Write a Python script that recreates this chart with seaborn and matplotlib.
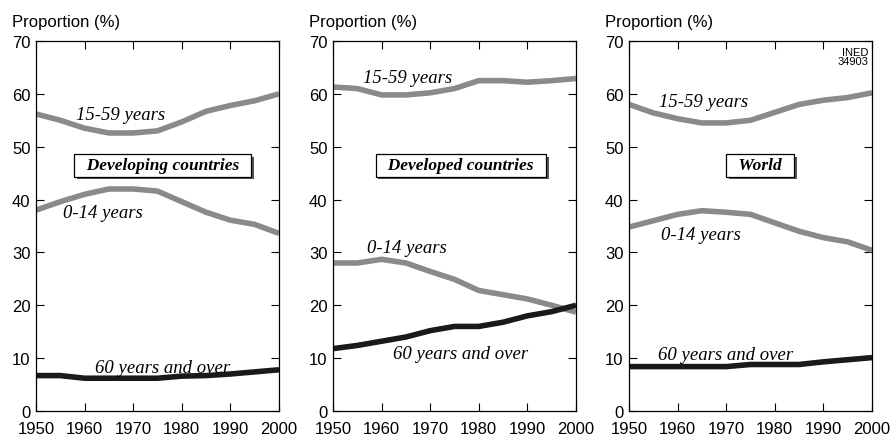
import pandas as pd
from matplotlib import pyplot as plt
from matplotlib import patheffects
import seaborn as sns

sns.set_theme(style="ticks")
plt.rcParams['font.family'] = ['Liberation Sans', 'DejaVu Sans']
plt.rcParams['text.color'] = 'black'

years = [1950, 1955, 1960, 1965, 1970, 1975, 1980, 1985, 1990, 1995, 2000]

# Developing countries
dev_15_59 = [56.2, 55.0, 53.5, 52.6, 52.6, 53.0, 54.7, 56.7, 57.8, 58.7, 60.0]
dev_0_14 = [38.0, 39.6, 41.0, 42.0, 42.0, 41.6, 39.6, 37.6, 36.1, 35.3, 33.6]
dev_60 = [6.7, 6.7, 6.2, 6.2, 6.2, 6.2, 6.6, 6.7, 7.0, 7.4, 7.8]

# Developed countries
ed_15_59 = [61.3, 61.0, 59.8, 59.8, 60.2, 61.0, 62.5, 62.5, 62.2, 62.5, 62.9]
ed_0_14 = [28.0, 28.0, 28.7, 28.0, 26.4, 24.9, 22.8, 22.0, 21.2, 20.0, 18.7]
ed_60 = [11.8, 12.4, 13.2, 14.0, 15.2, 16.0, 16.0, 16.8, 18.0, 18.8, 20.0]

# World
w_15_59 = [58.0, 56.4, 55.3, 54.5, 54.5, 55.0, 56.5, 58.0, 58.8, 59.3, 60.2]
w_0_14 = [34.8, 36.0, 37.2, 37.9, 37.6, 37.2, 35.6, 34.0, 32.8, 32.0, 30.4]
w_60 = [8.4, 8.4, 8.4, 8.4, 8.4, 8.8, 8.8, 8.8, 9.3, 9.7, 10.1]

groups = ["15-59 years", "0-14 years", "60 years and over"]
titles = ["Developing countries", "Developed countries", "World"]
series = [
    [dev_15_59, dev_0_14, dev_60],
    [ed_15_59, ed_0_14, ed_60],
    [w_15_59, w_0_14, w_60],
]

# label positions (year, value) for each panel: 15-59, 0-14, 60+, title box
label_pos = [
    [(1967.3, 56.1), (1963.8, 37.5), (1976.0, 8.3), (1976.1, 46.5)],
    [(1965.4, 63.1), (1965.2, 30.9), (1976.3, 10.8), (1976.3, 46.5)],
    [(1965.4, 58.5), (1964.8, 33.4), (1969.8, 10.6), (1977.0, 46.5)],
]

palette = {"15-59 years": "#8a8a8a", "0-14 years": "#8a8a8a", "60 years and over": "#1a1a1a"}

fig = plt.figure(figsize=(8.91, 4.35), dpi=100)
lefts = [36 / 891, 333 / 891, 629 / 891]

for i in range(3):
    ax = fig.add_axes([lefts[i], 1 - 412 / 435, 243 / 891, 370 / 435])
    rows = []
    for g, vals in zip(groups, series[i]):
        for y, v in zip(years, vals):
            rows.append({"year": y, "value": v, "group": g})
    df = pd.DataFrame(rows)
    sns.lineplot(ax=ax, data=df, x="year", y="value", hue="group", palette=palette,
                 linewidth=4, legend=False, solid_capstyle="butt")

    ax.set_xlim(1950, 2000)
    ax.set_ylim(0, 70)
    ax.set_xticks([1950, 1960, 1970, 1980, 1990, 2000])
    ax.set_yticks(range(0, 71, 10))
    ax.set_xlabel("")
    ax.set_ylabel("")
    ax.tick_params(direction="in", length=6, width=0.8, top=True, right=True,
                   labelsize=12, colors="black")
    ax.tick_params(axis="x", pad=7)
    ax.tick_params(axis="y", pad=4)
    for s in ax.spines.values():
        s.set_linewidth(0.9)
        s.set_color("black")

    for g, (x, y) in zip(groups, label_pos[i][:3]):
        ax.text(x, y, g, ha="center", va="center", fontsize=13.5, style="italic",
                family="Liberation Serif")

    bx, by = label_pos[i][3]
    t = ax.text(bx, by, "  " + titles[i] + "  ", ha="center", va="center", fontsize=12.5,
                style="italic", weight="bold", family="Liberation Serif",
                bbox=dict(boxstyle="square,pad=0.2", fc="white", ec="black", lw=0.9))
    t.get_bbox_patch().set_path_effects(
        [patheffects.withSimplePatchShadow(offset=(2, -2), shadow_rgbFace="#555555", alpha=1)])

    fig.text(lefts[i] - 24 / 891, 1 - 22 / 435, "Proportion (%)", ha="left", va="center",
             fontsize=12)

    if i == 2:
        ax.text(0.985, 0.985, "INED\n34903", transform=ax.transAxes, ha="right", va="top",
                fontsize=8, linespacing=0.95)

fig.savefig("out.png", dpi=100)
